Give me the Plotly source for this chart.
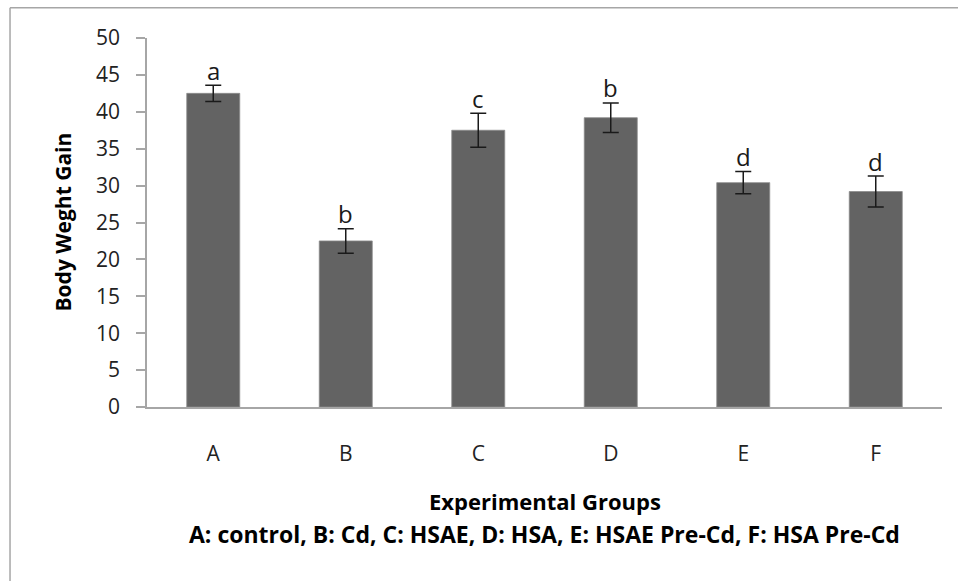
import plotly.graph_objects as go

groups = ["A", "B", "C", "D", "E", "F"]
gain = [42.5, 22.5, 37.5, 39.2, 30.4, 29.2]
err = [1.1, 1.65, 2.3, 2.0, 1.5, 2.1]
letters = ["a", "b", "c", "b", "d", "d"]
y_ticks = [0, 5, 10, 15, 20, 25, 30, 35, 40, 45, 50]

AXIS_GRAY = "#a6a6a6"
FONT = "Open Sans"

fig = go.Figure()
fig.add_trace(go.Bar(
    x=groups, y=gain,
    marker=dict(color="#636363", line=dict(color="#8c8c8c", width=0.8)),
    error_y=dict(type="data", array=err, visible=True, color="#1a1a1a",
                 thickness=1.5, width=8),
    showlegend=False,
))

for g, v, e, t in zip(groups, gain, err, letters):
    fig.add_annotation(x=g, y=v + e, text=t, showarrow=False,
                       xref="x", yref="y", yanchor="middle", yshift=15,
                       font=dict(family=FONT, size=24, color="#1a1a1a"))

fig.add_annotation(xref="paper", yref="paper", x=0.5, y=-0.2535,
                   text="<b>Experimental Groups</b>", showarrow=False,
                   yanchor="middle", font=dict(family=FONT, size=22, color="#000"))
fig.add_annotation(xref="paper", yref="paper", x=0.5, y=-0.3453,
                   text="<b>A: control, B: Cd, C: HSAE, D: HSA, E: HSAE Pre-Cd, F: HSA Pre-Cd</b>",
                   showarrow=False, yanchor="middle",
                   font=dict(family=FONT, size=23, color="#000"))
fig.add_annotation(xref="paper", yref="paper", x=-0.1069, y=0.5,
                   text="<b>Body Weght Gain</b>", showarrow=False, textangle=-90,
                   xanchor="center", yanchor="middle",
                   font=dict(family=FONT, size=21, color="#000"))

# outer frame (left and top edges)
fig.add_shape(type="line", xref="paper", yref="paper",
              x0=-0.1723, y0=-0.48, x1=-0.1723, y1=1.0817,
              line=dict(color=AXIS_GRAY, width=1.5))
fig.add_shape(type="line", xref="paper", yref="paper",
              x0=-0.1723, y0=1.0817, x1=1.03, y1=1.0817,
              line=dict(color=AXIS_GRAY, width=1.5))

fig.update_layout(
    width=958, height=581,
    margin=dict(l=147, r=16, t=38, b=174),
    paper_bgcolor="white", plot_bgcolor="white",
    bargap=0.6,
    font=dict(family=FONT, size=21, color="#222"),
    xaxis=dict(showline=True, linecolor=AXIS_GRAY, linewidth=1.5,
               ticks="", showgrid=False, ticklabelstandoff=27,
               tickfont=dict(family=FONT, size=21, color="#222")),
    yaxis=dict(range=[0, 50], tickvals=y_ticks, showline=True,
               linecolor=AXIS_GRAY, linewidth=1.5, ticks="outside",
               ticklen=9, tickcolor=AXIS_GRAY, tickwidth=1.5,
               showgrid=False, zeroline=False, ticklabelstandoff=12,
               tickfont=dict(family=FONT, size=21, color="#222")),
)

fig.write_html("out.html")
